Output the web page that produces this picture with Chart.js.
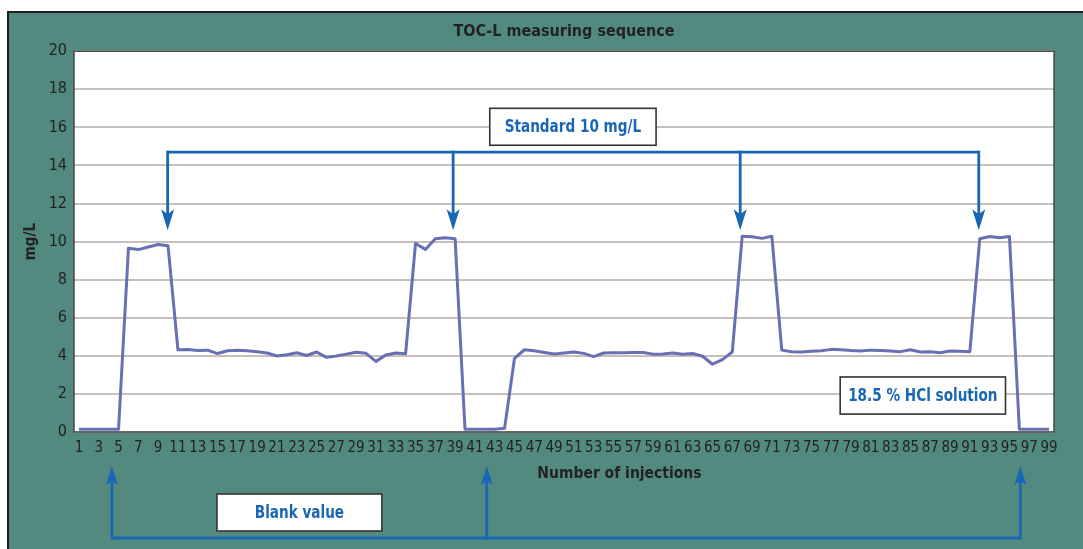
<!DOCTYPE html>
<html>
<head>
<meta charset="utf-8">
<title>TOC-L measuring sequence</title>
<script src="https://cdn.jsdelivr.net/npm/chart.js@4/dist/chart.umd.min.js"></script>
<style>
  html, body { margin: 0; padding: 0; background: #ffffff; }
  canvas { display: block; }
</style>
</head>
<body>
<canvas id="toc" width="1083" height="549"></canvas>
<script>
// Injection numbers 1..99
const injections = [
  1, 2, 3, 4, 5, 6, 7, 8, 9, 10, 11, 12, 13, 14, 15, 16, 17, 18, 19, 20,
  21, 22, 23, 24, 25, 26, 27, 28, 29, 30, 31, 32, 33, 34, 35, 36, 37, 38, 39, 40,
  41, 42, 43, 44, 45, 46, 47, 48, 49, 50, 51, 52, 53, 54, 55, 56, 57, 58, 59, 60,
  61, 62, 63, 64, 65, 66, 67, 68, 69, 70, 71, 72, 73, 74, 75, 76, 77, 78, 79, 80,
  81, 82, 83, 84, 85, 86, 87, 88, 89, 90, 91, 92, 93, 94, 95, 96, 97, 98, 99
];

// Measured TOC in mg/L for each injection
const tocValues = [
  0.15, 0.15, 0.15, 0.15, 0.15, 9.65, 9.58, 9.72, 9.85, 9.78,
  4.32, 4.33, 4.28, 4.30, 4.12, 4.27, 4.30, 4.27, 4.22, 4.15,
  3.99, 4.06, 4.16, 4.02, 4.20, 3.92, 3.99, 4.09, 4.19, 4.13,
  3.71, 4.04, 4.15, 4.11, 9.90, 9.59, 10.15, 10.20, 10.15, 0.15,
  0.15, 0.15, 0.15, 0.20, 3.87, 4.32, 4.27, 4.18, 4.10, 4.15,
  4.20, 4.13, 3.96, 4.15, 4.16, 4.16, 4.18, 4.18, 4.09, 4.10,
  4.15, 4.08, 4.12, 3.98, 3.56, 3.80, 4.20, 10.28, 10.25, 10.17,
  10.28, 4.30, 4.22, 4.20, 4.24, 4.27, 4.34, 4.32, 4.28, 4.26,
  4.30, 4.28, 4.26, 4.22, 4.32, 4.20, 4.22, 4.16, 4.25, 4.24,
  4.22, 10.15, 10.27, 10.20, 10.27, 0.15, 0.15, 0.15, 0.15
];

// Y axis tick values
const yTicks = [0, 2, 4, 6, 8, 10, 12, 14, 16, 18, 20];

// Texts
const chartTitle = 'TOC-L measuring sequence';
const xTitle = 'Number of injections';
const yTitle = 'mg/L';
const standardLabel = 'Standard 10 mg/L';
const blankLabel = 'Blank value';
const hclLabel = '18.5 % HCl solution';

// Injections the callout arrows point at
const standardArrows = [9.96, 38.8, 67.8, 91.9];
const blankArrows = [4.33, 42.2, 96.1];

const FONT = "'Liberation Sans Narrow', 'DejaVu Sans Condensed', 'Arial Narrow', sans-serif";
const BLUE = '#1866b4';
const INK = '#222222';
const PANEL = '#538a80';

// Background panel and plot frame
const framePlugin = {
  id: 'frame',
  beforeDraw(chart) {
    const { ctx, chartArea: a, width, height } = chart;
    ctx.save();
    ctx.fillStyle = '#ffffff';
    ctx.fillRect(0, 0, width, height);
    ctx.fillStyle = PANEL;
    ctx.fillRect(8, 12, width, height);
    ctx.strokeStyle = '#1e1e1e';
    ctx.lineWidth = 2;
    ctx.beginPath();
    ctx.moveTo(8, height + 2);
    ctx.lineTo(8, 12);
    ctx.lineTo(width + 2, 12);
    ctx.stroke();
    ctx.fillStyle = '#ffffff';
    ctx.fillRect(a.left, a.top, a.right - a.left, a.bottom - a.top);
    ctx.restore();
  },
  afterDatasetsDraw(chart) {
    const { ctx, chartArea: a } = chart;
    ctx.save();
    ctx.strokeStyle = '#474747';
    ctx.lineWidth = 1.5;
    ctx.strokeRect(a.left, a.top, a.right - a.left, a.bottom - a.top);
    ctx.restore();
  }
};

function downArrow(ctx, x, yTop, yTip) {
  ctx.beginPath();
  ctx.moveTo(x, yTop);
  ctx.lineTo(x, yTip - 14);
  ctx.stroke();
  ctx.beginPath();
  ctx.moveTo(x, yTip);
  ctx.lineTo(x - 6.5, yTip - 21);
  ctx.lineTo(x, yTip - 16);
  ctx.lineTo(x + 6.5, yTip - 21);
  ctx.closePath();
  ctx.fill();
}

function upArrow(ctx, x, yBottom, yTip) {
  ctx.beginPath();
  ctx.moveTo(x, yBottom);
  ctx.lineTo(x, yTip + 12);
  ctx.stroke();
  ctx.beginPath();
  ctx.moveTo(x, yTip);
  ctx.lineTo(x - 6, yTip + 19);
  ctx.lineTo(x, yTip + 15);
  ctx.lineTo(x + 6, yTip + 19);
  ctx.closePath();
  ctx.fill();
}

// White box with a dark outline and narrow, tall blue bold text
function labelBox(ctx, x1, y1, x2, y2, text) {
  ctx.fillStyle = '#ffffff';
  ctx.fillRect(x1, y1, x2 - x1, y2 - y1);
  ctx.strokeStyle = '#333333';
  ctx.lineWidth = 1.6;
  ctx.strokeRect(x1, y1, x2 - x1, y2 - y1);
  ctx.save();
  ctx.translate((x1 + x2) / 2, (y1 + y2) / 2 + 1);
  ctx.scale(0.84, 1);
  ctx.fillStyle = BLUE;
  ctx.font = 'bold 18px ' + FONT;
  ctx.textAlign = 'center';
  ctx.textBaseline = 'middle';
  ctx.fillText(text, 0, 0);
  ctx.restore();
}

// Callouts: brackets with arrows, labelled boxes and the x axis caption
const calloutPlugin = {
  id: 'callouts',
  afterDraw(chart) {
    const { ctx, chartArea: a } = chart;
    const xs = chart.scales.x, ys = chart.scales.y;
    const px = n => xs.getPixelForValue(n - 1);
    const py = v => ys.getPixelForValue(v);
    ctx.save();

    // x axis caption, set to the right of the bracket's middle arrow
    ctx.fillStyle = INK;
    ctx.font = 'bold 15.5px ' + FONT;
    ctx.textAlign = 'center';
    ctx.textBaseline = 'middle';
    ctx.fillText(xTitle, px(55.6), a.bottom + 42);

    ctx.strokeStyle = BLUE;
    ctx.fillStyle = BLUE;
    ctx.lineWidth = 2.8;
    ctx.lineCap = 'butt';

    // Standard bracket above the peaks
    const yBar = py(14.7), yTip = py(10.6);
    ctx.beginPath();
    ctx.moveTo(px(standardArrows[0]), yBar);
    ctx.lineTo(px(standardArrows[standardArrows.length - 1]), yBar);
    ctx.stroke();
    standardArrows.forEach(n => downArrow(ctx, px(n), yBar - 1.4, yTip));

    // Blank bracket under the axis
    const yLow = a.bottom + 106, yUp = a.bottom + 34;
    ctx.beginPath();
    ctx.moveTo(px(blankArrows[0]), yLow);
    ctx.lineTo(px(blankArrows[blankArrows.length - 1]), yLow);
    ctx.stroke();
    blankArrows.forEach(n => upArrow(ctx, px(n), yLow + 1.4, yUp));

    labelBox(ctx, px(42.5), py(17.0), px(59.3), py(15.06), standardLabel);
    labelBox(ctx, px(14.94), a.bottom + 62, px(31.6), a.bottom + 99, blankLabel);
    labelBox(ctx, px(77.9), py(2.89), px(94.6), py(0.94), hclLabel);
    ctx.restore();
  }
};

new Chart(document.getElementById('toc'), {
  type: 'line',
  data: {
    labels: injections.map(String),
    datasets: [{
      data: tocValues,
      borderColor: '#6670b2',
      borderWidth: 3,
      pointRadius: 0,
      tension: 0,
      borderJoinStyle: 'round',
      fill: false
    }]
  },
  options: {
    responsive: false,
    animation: false,
    devicePixelRatio: 1,
    layout: { padding: { left: 8, top: 12, right: 29, bottom: 0 } },
    plugins: {
      legend: { display: false },
      tooltip: { enabled: false },
      title: {
        display: true,
        fullSize: false,
        text: chartTitle,
        color: INK,
        font: { family: FONT, size: 16, weight: 'bold' },
        padding: { top: 10, bottom: 10 }
      }
    },
    scales: {
      x: {
        type: 'category',
        offset: true,
        grid: { display: false, drawTicks: false },
        border: { display: false },
        afterFit(s) { s.height = 117; },
        ticks: {
          autoSkip: false,
          maxRotation: 0,
          minRotation: 0,
          padding: 7,
          color: INK,
          font: { family: FONT, size: 15 },
          callback(value, index) { return index % 2 === 0 ? injections[index] : ''; }
        },
        title: { display: false }
      },
      y: {
        min: 0,
        max: 20,
        afterFit(s) { s.width = 66; },
        afterBuildTicks(s) { s.ticks = yTicks.map(v => ({ value: v })); },
        grid: { color: '#c7bfbb', lineWidth: 2, drawTicks: false },
        border: { display: false },
        ticks: {
          padding: 7,
          color: INK,
          font: { family: FONT, size: 16 }
        },
        title: {
          display: true,
          text: yTitle,
          color: INK,
          font: { family: FONT, size: 15, weight: 'bold' },
          padding: { top: 14, bottom: 0 }
        }
      }
    }
  },
  plugins: [framePlugin, calloutPlugin]
});
</script>
</body>
</html>
